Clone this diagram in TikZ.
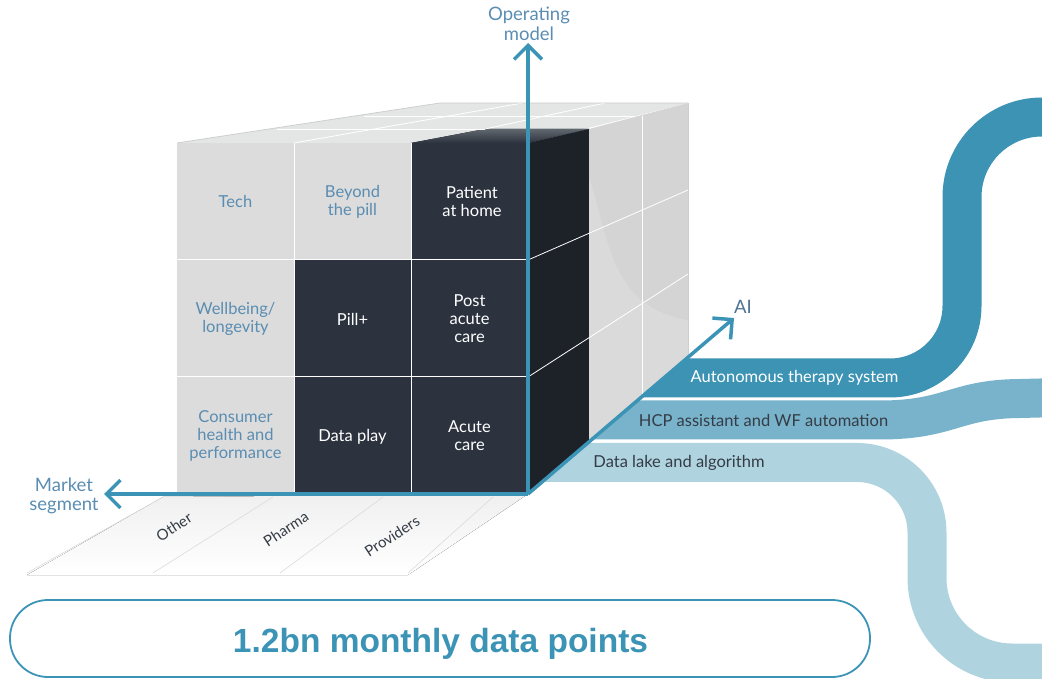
\documentclass[tikz,border=0pt]{standalone}
\usepackage{fontspec}
\setmainfont{Lato}
\newfontfamily\pillfont{Liberation Sans}
\usetikzlibrary{arrows.meta}
\definecolor{axisblue}{HTML}{3B93B5}
\definecolor{labelblue}{HTML}{5A8DB2}
\definecolor{aiblue}{HTML}{4E7393}
\definecolor{darkcell}{HTML}{2C333F}
\definecolor{darkside}{HTML}{1D2229}
\definecolor{darktop}{HTML}{60676E}
\definecolor{lightcell}{HTML}{DCDCDC}
\definecolor{lightside}{HTML}{D4D4D4}
\definecolor{swoosh}{HTML}{DADADA}
\definecolor{topface}{HTML}{E4E6E6}
\definecolor{edgegrey}{HTML}{CDCFCF}
\definecolor{ribA}{HTML}{3C93B4}
\definecolor{ribB}{HTML}{78B3CB}
\definecolor{ribC}{HTML}{AFD4E0}
\definecolor{textdark}{HTML}{353C45}
\begin{document}
\begin{tikzpicture}[x=1pt,y=1pt,
  celltext/.style={align=center, font=\fontsize{16.5}{18}\selectfont},
  lighttext/.style={celltext, text=labelblue},
  darktext/.style={celltext, text=white},
  axisline/.style={line width=3.5pt, draw=axisblue, -{Straight Barb[length=14pt,width=28pt]}},
  axislabel/.style={align=center, text=labelblue, font=\fontsize{18.5}{19.5}\selectfont},
  ribbon/.style={line width=39pt},
  ribtext/.style={font=\fontsize{16.5}{18}\selectfont},
  floortext/.style={font=\fontsize{15}{17}\selectfont, text=textdark, rotate=33},
  gridline/.style={draw=white, line width=1pt},
  floorline/.style={draw=black!14, line width=0.6pt},
]
\useasboundingbox (0,0) rectangle (1042,678);

% ---------- floor ----------
\fill[top color=black!6, bottom color=white] (163,181) -- (528,184) -- (408,103) -- (27,103) -- cycle;
\draw[floorline] (163,181) -- (27,105);
\draw[floorline] (273,181) -- (153,105);
\draw[floorline] (383,181) -- (280,105);
\draw[floorline] (493,181) -- (408,105);

% ---------- top face ----------
\fill[topface] (177,535) -- (528,535) -- (688,575) -- (440,575) -- cycle;
\fill[top color=darktop, bottom color=darkcell] (411,535) -- (528,535) -- (589,549) -- (485,549) -- cycle;
\draw[gridline, line width=0.8pt] (294,535) -- (523,575);
\draw[gridline, line width=0.8pt] (485,549) -- (605,575);
\draw[gridline, line width=0.8pt] (277,549) -- (485,549);
\draw[gridline, line width=0.8pt] (364,562) -- (642,562);
\draw[edgegrey, line width=0.8pt] (177,535) -- (440,575) -- (688,575);

% ---------- right face ----------
\fill[darkside] (528,535) -- (589,549) -- (589,236.5) -- (528,184) -- cycle;
\fill[lightside] (589,549) -- (688,575) -- (688,321.6) -- (589,236.5) -- cycle;
\fill[swoosh] (589,500) -- (593,488) .. controls (610,430) and (615,370) .. (688,358) -- (688,321.6) -- (589,236.5) -- cycle;
\draw[gridline, line width=0.8pt] (528,418) -- (688,488);
\draw[gridline, line width=0.8pt] (528,301) -- (688,404);
\draw[gridline, line width=0.8pt] (642,562) -- (642,282);
\draw[edgegrey, line width=0.8pt] (688,575) -- (688,321.6);

% ---------- front face ----------
\fill[lightcell] (177,535) rectangle (411,418);
\fill[darkcell] (411,535) rectangle (528,418);
\fill[lightcell] (177,418) rectangle (294,184);
\fill[darkcell] (294,418) rectangle (528,184);
\draw[gridline] (294,535) -- (294,184);
\draw[gridline] (411,535) -- (411,184);
\draw[gridline] (177,418) -- (528,418);
\draw[gridline] (177,301) -- (528,301);

\node[lighttext] (tech) at (235.5,476.5) {Tech};
\node[lighttext] (beyond) at (352.5,476.5) {Beyond\\the pill};
\node[darktext] (patient) at (472,476.5) {Patient\\at home};
\node[lighttext] (wellbeing) at (235.5,359.5) {Wellbeing/\\longevity};
\node[darktext] (pillplus) at (352.5,358.5) {Pill+};
\node[darktext] (postacute) at (469.5,359.5) {Post\\acute\\care};
\node[lighttext] (consumer) at (235.5,242.5) {Consumer\\health and\\performance};
\node[darktext] (dataplay) at (352.5,241.5) {Data play};
\node[darktext] (acute) at (469.5,242.5) {Acute\\care};

% ---------- ribbons ----------
\begin{scope}
\clip (528,184) -- (760,383.5) -- (760,700) -- (1100,700) -- (1100,-20) -- (528,-20) -- cycle;
\draw[ribC, ribbon] (530,215.5) -- (857,215.5) arc[start angle=90,end angle=0,radius=70] -- (927,100) arc[start angle=180,end angle=270,radius=85] -- (1080,15);
\draw[ribB, ribbon] (560,258) -- (880,258) .. controls (950,258) and (955,279) .. (1020,279.5) -- (1080,281);
\draw[ribA, ribbon] (600,300) -- (890,300) arc[start angle=-90,end angle=0,radius=72] -- (962,481) arc[start angle=180,end angle=90,radius=80] -- (1080,561);
\end{scope}
\node[ribtext, text=white] (auto) at (794.5,300) {Autonomous therapy system};
\node[ribtext, text=textdark] (hcp) at (763.5,257.5) {HCP assistant and WF automation};
\node[ribtext, text=textdark] (datalake) at (679,215) {Data lake and algorithm};

% ---------- axes ----------
\coordinate (O) at (528,184);
\coordinate (opTip) at (528,635);
\coordinate (mkTip) at (104,184);
\coordinate (aiTip) at (734,360);
\draw[axisline] (O) -- (opTip);
\draw[axisline] (O) -- (mkTip);
\draw[axisline] (O) -- (aiTip);
\node[axislabel] (oplabel) at (529,654) {Operating\\model};
\node[axislabel] (mklabel) at (64,182) {Market\\segment};
\node[axislabel, text=aiblue] (ailabel) at (743,371) {AI};

% ---------- floor labels ----------
\node[floortext] (other) at (174,151) {Other};
\node[floortext] (pharma) at (286,149) {Pharma};
\node[floortext] (providers) at (392,142) {Providers};

% ---------- pill ----------
\node[draw=axisblue, line width=1.8pt, rounded corners=38pt, minimum width=860pt, minimum height=77pt, inner sep=0pt] (pill) at (440,39.5) {};
\node[anchor=base, text=axisblue, font=\pillfont\bfseries\fontsize{33.5}{38}\selectfont] (pilltext) at (440.5,26) {1.2bn monthly data points};
\end{tikzpicture}
\end{document}
